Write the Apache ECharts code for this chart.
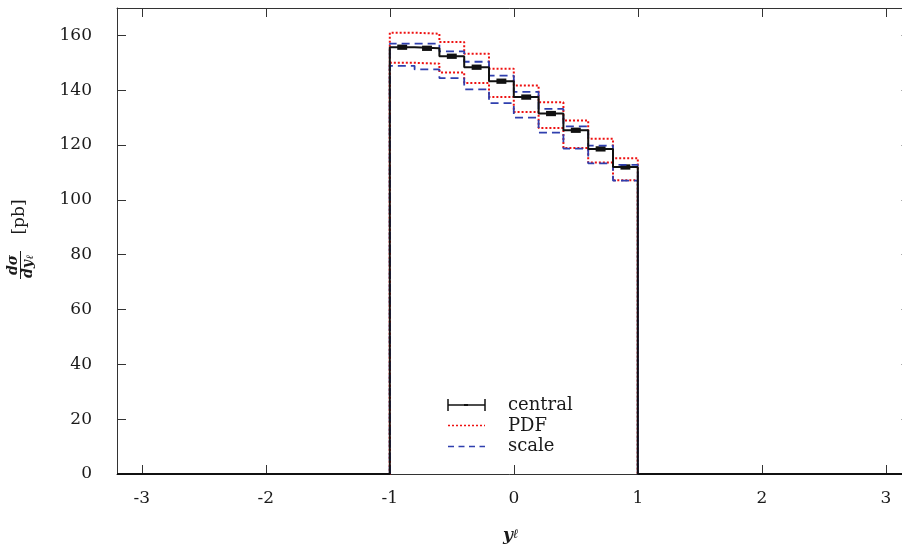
<!DOCTYPE html>
<html>
<head>
<meta charset="utf-8">
<script src="https://cdn.jsdelivr.net/npm/echarts@6/dist/echarts.min.js"></script>
<style>
html,body{margin:0;padding:0;background:#fff;}
#chart{width:902px;height:546px;}
</style>
</head>
<body>
<div id="chart"></div>
<script>
// ---- data ----
var binEdges = [-1.0, -0.8, -0.6, -0.4, -0.2, 0.0, 0.2, 0.4, 0.6, 0.8, 1.0];
var central   = [155.7, 155.3, 152.4, 148.4, 143.3, 137.5, 131.5, 125.4, 118.6, 112.0];
var centralErr= [0.6, 0.6, 0.6, 0.6, 0.6, 0.6, 0.6, 0.6, 0.6, 0.6];
var pdfUp     = [161.0, 160.6, 157.6, 153.3, 147.8, 141.7, 135.6, 129.0, 122.3, 115.2];
var pdfDown   = [150.0, 149.7, 146.5, 142.6, 137.5, 132.1, 126.2, 118.9, 113.6, 107.2];
var scaleUp   = [157.0, 157.0, 154.2, 150.4, 145.3, 139.4, 133.2, 126.8, 119.8, 112.8];
var scaleDown = [148.9, 147.6, 144.4, 140.3, 135.3, 130.0, 124.5, 118.7, 113.3, 107.0];
var xTicks = [-3, -2, -1, 0, 1, 2, 3];
var yTicks = [0, 20, 40, 60, 80, 100, 120, 140, 160];
var xRange = [-3.2, 3.2];
var yRange = [0, 170];

// ---- build step-line data from the bins ----
function stepData(vals) {
  var d = [[xRange[0], 0]];
  for (var i = 0; i < vals.length; i++) d.push([binEdges[i], vals[i]]);
  d.push([binEdges[binEdges.length - 1], 0]);
  d.push([xRange[1], 0]);
  return d;
}
var errData = central.map(function (v, i) {
  return [(binEdges[i] + binEdges[i + 1]) / 2, v, centralErr[i]];
});

var SERIF = '"DejaVu Serif", "Liberation Serif", serif';
var RED = '#ee1111';
var BLUE = '#2f3fae';
var FRAME = '#333';
var TXT = '#1a1a1a';

function xAxisCfg(pos, showLabel) {
  return {
    type: 'value', position: pos, min: xRange[0], max: xRange[1],
    axisLine: { show: true, onZero: false, lineStyle: { color: FRAME, width: 1 } },
    axisTick: { show: true, inside: true, length: 9, customValues: xTicks, lineStyle: { color: FRAME } },
    axisLabel: { show: showLabel, customValues: xTicks, margin: 16, fontFamily: SERIF, fontSize: 17, color: TXT },
    splitLine: { show: false }
  };
}
function yAxisCfg(pos, showLabel) {
  return {
    type: 'value', position: pos, min: yRange[0], max: yRange[1],
    axisLine: { show: true, onZero: false, lineStyle: { color: FRAME, width: 1 } },
    axisTick: { show: true, inside: true, length: 9, customValues: yTicks, lineStyle: { color: FRAME } },
    axisLabel: { show: showLabel, customValues: yTicks, margin: 25, fontFamily: SERIF, fontSize: 17, color: TXT },
    splitLine: { show: false }
  };
}

function stepSeries(name, vals, color, width, dash) {
  return {
    name: name, type: 'line', step: 'end', data: stepData(vals),
    symbol: 'none', silent: true, animation: false,
    lineStyle: { color: color, width: width, type: dash }
  };
}

var chart = echarts.init(document.getElementById('chart'), null, { renderer: 'canvas' });
var option = {
  backgroundColor: '#fff',
  animation: false,
  grid: { left: 117, top: 8, width: 793.6, height: 466, containLabel: false, outerBoundsMode: 'none' },
  xAxis: [xAxisCfg('bottom', true), xAxisCfg('top', false)],
  yAxis: [yAxisCfg('left', true), yAxisCfg('right', false)],
  series: [
    stepSeries('PDF+', pdfUp, RED, 2, [2, 2]),
    stepSeries('PDF-', pdfDown, RED, 2, [2, 2]),
    stepSeries('scale+', scaleUp, BLUE, 1.8, [8, 5]),
    stepSeries('scale-', scaleDown, BLUE, 1.8, [8, 5]),
    stepSeries('central', central, '#111', 2, 'solid'),
    {
      name: 'err', type: 'custom', data: errData, silent: true, animation: false,
      renderItem: function (params, api) {
        var x = api.value(0), v = api.value(1), e = api.value(2);
        var p1 = api.coord([x - 0.04, v + e]);
        var p2 = api.coord([x + 0.04, v - e]);
        return {
          type: 'rect',
          shape: { x: p1[0], y: p1[1] - 1, width: p2[0] - p1[0], height: p2[1] - p1[1] + 2 },
          style: { fill: '#111' }
        };
      }
    }
  ],
  graphic: [
    // legend
    { type: 'line', shape: { x1: 448, y1: 405, x2: 485, y2: 405 }, style: { stroke: '#111', lineWidth: 1.5 } },
    { type: 'line', shape: { x1: 448, y1: 399, x2: 448, y2: 411 }, style: { stroke: '#111', lineWidth: 1.5 } },
    { type: 'line', shape: { x1: 485, y1: 399, x2: 485, y2: 411 }, style: { stroke: '#111', lineWidth: 1.5 } },
    { type: 'rect', shape: { x: 464, y: 404, width: 4, height: 2 }, style: { fill: '#111' } },
    { type: 'line', shape: { x1: 448, y1: 425.5, x2: 485, y2: 425.5 }, style: { stroke: RED, lineWidth: 1.5, lineDash: [2, 2] } },
    { type: 'line', shape: { x1: 448, y1: 446.5, x2: 485, y2: 446.5 }, style: { stroke: BLUE, lineWidth: 1.5, lineDash: [6, 4.5] } },
    { type: 'text', x: 508, y: 405, style: { text: 'central', fontFamily: SERIF, fontSize: 18, fill: TXT, verticalAlign: 'middle' } },
    { type: 'text', x: 508, y: 426, style: { text: 'PDF', fontFamily: SERIF, fontSize: 18, fill: TXT, verticalAlign: 'middle' } },
    { type: 'text', x: 508, y: 446, style: { text: 'scale', fontFamily: SERIF, fontSize: 18, fill: TXT, verticalAlign: 'middle' } },
    // x axis title
    { type: 'text', x: 503, y: 536, style: { text: 'y', fontFamily: SERIF, fontSize: 17, fontStyle: 'italic', fontWeight: 'bold', fill: TXT, verticalAlign: 'middle' } },
    { type: 'text', x: 513, y: 535, style: { text: 'ℓ', fontFamily: SERIF, fontSize: 13, fontStyle: 'italic', fontWeight: 'bold', fill: TXT, verticalAlign: 'middle' } },
    // y axis title (rotated)
    {
      type: 'group', x: 20, y: 240, rotation: Math.PI / 2,
      children: [
        { type: 'text', x: -25, y: -7, style: { text: 'dσ', fontFamily: SERIF, fontSize: 14, fontStyle: 'italic', fontWeight: 'bold', fill: TXT, align: 'center', verticalAlign: 'middle' } },
        { type: 'line', shape: { x1: -39, y1: 0.5, x2: -11, y2: 0.5 }, style: { stroke: TXT, lineWidth: 1 } },
        { type: 'text', x: -29, y: 8, style: { text: 'dy', fontFamily: SERIF, fontSize: 14, fontStyle: 'italic', fontWeight: 'bold', fill: TXT, align: 'center', verticalAlign: 'middle' } },
        { type: 'text', x: -17, y: 10, style: { text: 'ℓ', fontFamily: SERIF, fontSize: 10, fontStyle: 'italic', fontWeight: 'bold', fill: TXT, align: 'center', verticalAlign: 'middle' } },
        { type: 'text', x: 23, y: 0, style: { text: '[pb]', fontFamily: SERIF, fontSize: 17, fill: TXT, align: 'center', verticalAlign: 'middle' } }
      ]
    }
  ]
};
chart.setOption(option);
</script>
</body>
</html>
